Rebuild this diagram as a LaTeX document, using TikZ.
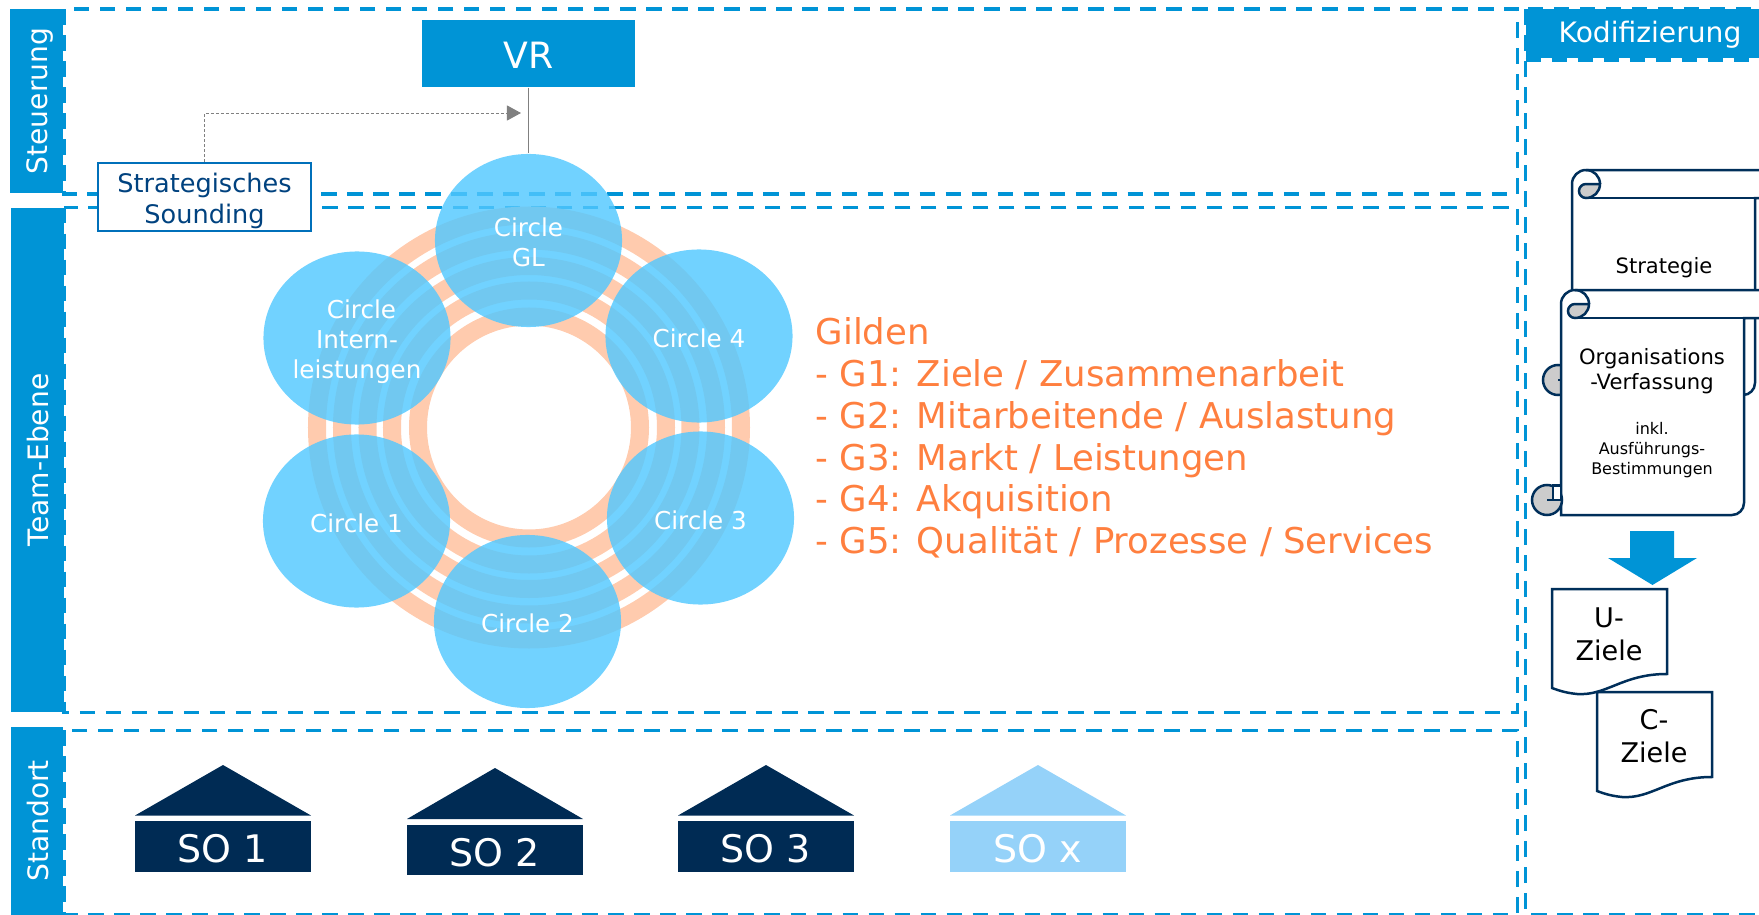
\documentclass[tikz,border=0pt]{standalone}
\usepackage{fontspec}
\setmainfont{DejaVu Sans}
\usetikzlibrary{arrows.meta,shapes.geometric}
\definecolor{lineblue}{HTML}{0094D6}
\definecolor{circleblue}{HTML}{52C8FF}
\definecolor{ringpeach}{HTML}{FFCBAE}
\definecolor{guildorange}{HTML}{FF7F3F}
\definecolor{sodark}{HTML}{002B54}
\definecolor{solight}{HTML}{95D2F9}
\definecolor{scrollline}{HTML}{002F5A}
\definecolor{soundtext}{HTML}{00427F}
\definecolor{soundline}{HTML}{0070BA}
\tikzset{
	framedash/.style={draw=lineblue,line width=0.03cm,dash pattern=on 0.155cm off 0.105cm},
	sidelabel/.style={fill=lineblue,text=white,rotate=90,inner sep=0pt,minimum height=0.52cm,text height=0.30cm,text depth=0.076cm,font=\fontsize{8pt}{9pt}\selectfont},
	ringband/.style={draw=ringpeach,line width=0.18cm},
	circlenode/.style={ellipse,fill=circleblue,fill opacity=0.82,text opacity=1,text=white,inner sep=0pt,minimum width=1.87cm,minimum height=1.73cm,align=center,font=\fontsize{7pt}{8.5pt}\selectfont},
	sobox/.style={fill=sodark,text=white,inner sep=0pt,minimum width=1.76cm,minimum height=0.505cm,text height=0.32cm,text depth=0pt,font=\fontsize{10.8pt}{12pt}\selectfont},
	scrolltext/.style={text=black,align=center,inner sep=0pt,font=\fontsize{6pt}{7.1pt}\selectfont},
	doctext/.style={text=black,align=center,inner sep=0pt,font=\fontsize{7.7pt}{9.5pt}\selectfont},
	scrollbox/.pic={
		\draw[scrollline,fill=white,line width=0.025cm] (0,14) arc[start angle=180,end angle=270,radius=14] -- (270,0) -- (270,28) -- (183,28) -- (183,213) arc[start angle=0,end angle=90,radius=12] -- (0,225) -- cycle;
		\draw[scrollline,line width=0.025cm] (14,28) -- (183,28);
		\draw[scrollline,fill=black!20,line width=0.025cm] (-14,210) circle[radius=15];
		\draw[scrollline,fill=white,line width=0.025cm] (-8,195.5) -- (0,195.5) -- (0,210) -- (-14,210) -- (-8,210) -- cycle;
		\draw[scrollline,line width=0.025cm] (14,0) arc[start angle=-90,end angle=0,radius=14];
		\draw[scrollline,fill=black!20,line width=0.025cm] (14,14) -- (28,14) arc[start angle=0,end angle=90,radius=14] arc[start angle=90,end angle=270,radius=7];
	},
	docshape/.pic={
		\draw[scrollline,fill=white,line width=0.025cm] (0,0) -- (115,0) -- (115,85) .. controls (70,85) and (55,107) .. (25,105) .. controls (15,104) and (8,102) .. (0,99) -- cycle;
	}
}
\begin{document}
\begin{tikzpicture}[x=0.01cm,y=0.01cm,yscale=-1]
	\useasboundingbox (0,0) rectangle (1759,915);
	\clip (0,0) rectangle (1759,915);
	\node[sidelabel,minimum width=1.84cm] (steuerung) at (36.5,101) {Steuerung};
	\node[sidelabel,minimum width=5.04cm] (team) at (37.5,460) {Team-Ebene};
	\node[sidelabel,minimum width=1.88cm] (standort) at (37,821) {Standort};
	\node[fill=lineblue,text=white,inner sep=0pt,minimum width=2.48cm,minimum height=0.49cm,text height=0.26cm,text depth=0.072cm,font=\fontsize{8pt}{9pt}\selectfont] (kodi) at (1650,33.5) {Kodifizierung};
	\draw[framedash] (64,9) rectangle (1517.5,194);
	\draw[framedash] (64,207.5) rectangle (1517.5,712);
	\draw[framedash] (64,730) rectangle (1517.5,914);
	\draw[framedash] (1525.5,9) rectangle (1800,914);
	\draw[framedash] (1525.5,60) -- (1800,60);
	\coordinate (ringcenter) at (529,427.5);
	\draw[ringband] (ringcenter) circle[radius=212];
	\draw[ringband] (ringcenter) circle[radius=187];
	\draw[ringband] (ringcenter) circle[radius=161.5];
	\draw[ringband] (ringcenter) circle[radius=137];
	\draw[ringband] (ringcenter) circle[radius=111];
	\node[fill=lineblue,text=white,inner sep=0pt,minimum width=2.13cm,minimum height=0.67cm,text height=0.30cm,text depth=0pt,font=\fontsize{10.3pt}{12pt}\selectfont] (vr) at (528.5,53.5) {VR};
	\node[circlenode] (gl) at (528.5,240.5) {\rule{0pt}{0.23cm}Circle\\GL};
	\node[circlenode] (intern) at (357,338) {\rule{0pt}{0.265cm}\hspace*{0.09cm}Circle\\Intern-\\leistungen};
	\node[circlenode,text height=0.225cm,text depth=0pt] (c4) at (699,336) {Circle 4};
	\node[circlenode,text height=0.225cm,text depth=0pt] (c1) at (356.5,521) {Circle 1};
	\node[circlenode,text height=0.225cm,text depth=0pt] (c3) at (700.5,518) {Circle 3};
	\node[circlenode,text height=0.225cm,text depth=0pt] (c2) at (527.5,621.5) {Circle 2};
	\draw[gray,line width=0.012cm] (vr) -- (gl);
	\node[draw=soundline,fill=white,text=soundtext,line width=0.025cm,inner sep=0pt,minimum width=2.13cm,minimum height=0.68cm,align=center,font=\fontsize{7.27pt}{8.8pt}\selectfont] (sounding) at (204.5,197) {\rule{0pt}{0.275cm}Strategisches\\Sounding};
	\coordinate (arrowend) at (521,113);
	\draw[gray,line width=0.01cm,dash pattern=on 0.03cm off 0.02cm,-{Triangle[length=0.14cm,width=0.15cm]}] (sounding) |- (arrowend);
	\node[anchor=west,text=guildorange,inner sep=0pt,align=left,font=\fontsize{10.1pt}{11.86pt}\selectfont] (gilden) at (815,438) {Gilden\\- G1: Ziele / Zusammenarbeit\\- G2: Mitarbeitende / Auslastung\\- G3: Markt / Leistungen\\- G4: Akquisition\\- G5: Qualität / Prozesse / Services};
	\fill[sodark] (135,815.5) -- (223,765) -- (311,815.5) -- cycle;
	\node[sobox] (so1) at (223,846.5) {SO 1};
	\fill[sodark] (407,819) -- (495,768) -- (583,819) -- cycle;
	\node[sobox] (so2) at (495,850) {SO 2};
	\fill[sodark] (678,815.5) -- (766,765) -- (854,815.5) -- cycle;
	\node[sobox] (so3) at (766,846.5) {SO 3};
	\fill[solight] (950,815.5) -- (1038,765) -- (1126,815.5) -- cycle;
	\node[sobox,fill=solight] (sox) at (1038,846.5) {SO x};
	\pic[transform shape] at (1572,170) {scrollbox};
	\node[scrolltext] (strategie) at (1664,268) {Strategie};
	\pic[transform shape] at (1561,290) {scrollbox};
	\node[scrolltext] (verfassung) at (1652,371) {Organisations\\-Verfassung};
	\node[scrolltext,font=\fontsize{4.55pt}{5.7pt}\selectfont] (inkl) at (1652,450) {inkl.\\Ausführungs-\\Bestimmungen};
	\fill[lineblue] (1630,531) -- (1674,531) -- (1674,558) -- (1697,558) -- (1652.5,585) -- (1608,558) -- (1630,558) -- cycle;
	\pic[transform shape] at (1552,589) {docshape};
	\node[doctext] (uziele) at (1609,634.5) {U-\\Ziele};
	\pic[transform shape] at (1597,692) {docshape};
	\node[doctext] (cziele) at (1654,736) {C-\\Ziele};
\end{tikzpicture}
\end{document}
